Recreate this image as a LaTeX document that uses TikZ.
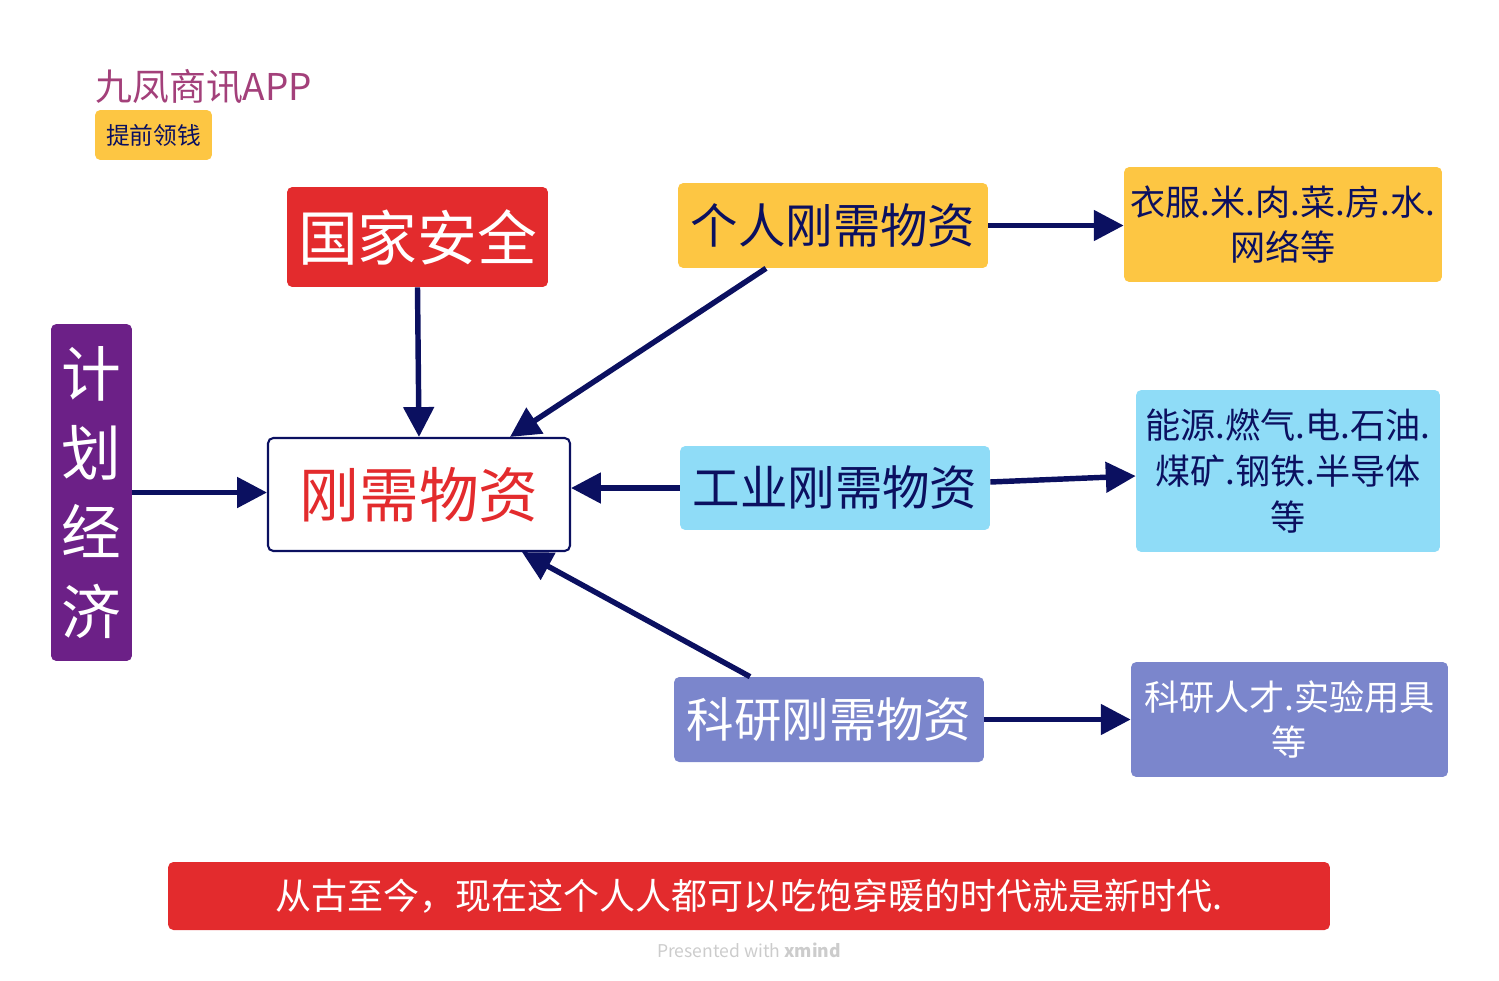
\documentclass[tikz,border=0pt]{standalone}
\usepackage{fontspec}
\setmainfont{Noto Sans CJK SC}
\usetikzlibrary{arrows.meta}
\definecolor{navy}{RGB}{11,16,96}
\definecolor{boxred}{RGB}{227,43,45}
\definecolor{boxyellow}{RGB}{253,198,67}
\definecolor{boxblue}{RGB}{143,220,247}
\definecolor{boxpurple}{RGB}{108,32,135}
\definecolor{boxlilac}{RGB}{123,134,204}
\definecolor{titlepink}{RGB}{163,64,122}

\begin{document}
\begin{tikzpicture}[
    x=0.02cm, y=-0.02cm,
    box/.style={rounded corners=3pt, inner sep=0pt, align=center},
    big/.style={font=\fontsize{34}{45}\selectfont},
    mid/.style={font=\fontsize{27}{32}\selectfont, text=navy},
    small/.style={font=\fontsize{20}{26}\selectfont, text=navy},
    link/.style={draw=navy, line width=3.1pt, -{Triangle[length=17pt,width=17pt]}}
]
\useasboundingbox (0,0) rectangle (1499,981);

% header
\node[anchor=west, inner sep=0pt, text=titlepink, font=\fontsize{21}{24}\selectfont] (title) at (95,87) {九凤商讯APP};
\node[box, fill=boxyellow, text=navy, minimum width=2.34cm, minimum height=1cm,
    font=\fontsize{13.5}{16}\selectfont] (badge) at (153.5,135) {提前领钱};

% centre and left side
\node[box, fill=white, draw=navy, line width=1.2pt, text=boxred, big,
    minimum width=6.04cm, minimum height=2.26cm] (core) at (419,494.5) {刚需物资};
\node[box, fill=boxred, text=white, big, minimum width=5.22cm, minimum height=2cm] (safe) at (417.5,237) {国家安全};
\node[box, fill=boxpurple, text=white, big, minimum width=1.62cm, minimum height=6.74cm] (plan) at (91.5,492.5) {计\\划\\经\\济};

% three kinds of goods
\node[box, fill=boxyellow, mid, minimum width=6.2cm, minimum height=1.7cm] (personal) at (833,225.5) {个人刚需物资};
\node[box, fill=boxblue, mid, minimum width=6.2cm, minimum height=1.68cm] (industry) at (835,488) {工业刚需物资};
\node[box, fill=boxlilac, mid, text=white, minimum width=6.2cm, minimum height=1.7cm] (research) at (829,719.5) {科研刚需物资};

\node[box, fill=boxyellow, small, minimum width=6.36cm, minimum height=2.3cm] (personalx) at (1283,224.5) {衣服.米.肉.菜.房.水.\\网络等};
\node[box, fill=boxblue, small, minimum width=6.08cm, minimum height=3.24cm] (industryx) at (1288,471) {能源.燃气.电.石油.\\煤矿.钢铁.半导体\\等};
\node[box, fill=boxlilac, small, text=white, minimum width=6.34cm, minimum height=2.3cm] (researchx) at (1289.5,719.5) {科研人才.实验用具\\等};

% footer
\node[box, fill=boxred, text=white, font=\fontsize{20.5}{25}\selectfont,
    minimum width=23.24cm, minimum height=1.36cm] (banner) at (749,896) {从古至今，现在这个人人都可以吃饱穿暖的时代就是新时代.};
\node[text=black!20, font=\fontsize{10}{12}\selectfont] (credit) at (749,950) {Presented with \textbf{xmind}};

% arrows
\draw[link] (plan.east) -- (plan.east -| core.west);
\draw[link] (safe.south) -- (core.north);
\draw[link] ([xshift=-1.34cm]personal.south) -- ([xshift=1.82cm]core.north);
\draw[link] (industry.west) -- (industry.west -| core.east);
\draw[link] ([xshift=-1.58cm]research.north) -- ([xshift=2.06cm]core.south);
\draw[link] (personal.east) -- (personal.east -| personalx.west);
\draw[link] ([yshift=0.12cm]industry.east) -- ([yshift=-0.1cm]industryx.west);
\draw[link] (research.east) -- (research.east -| researchx.west);

\end{tikzpicture}
\end{document}
